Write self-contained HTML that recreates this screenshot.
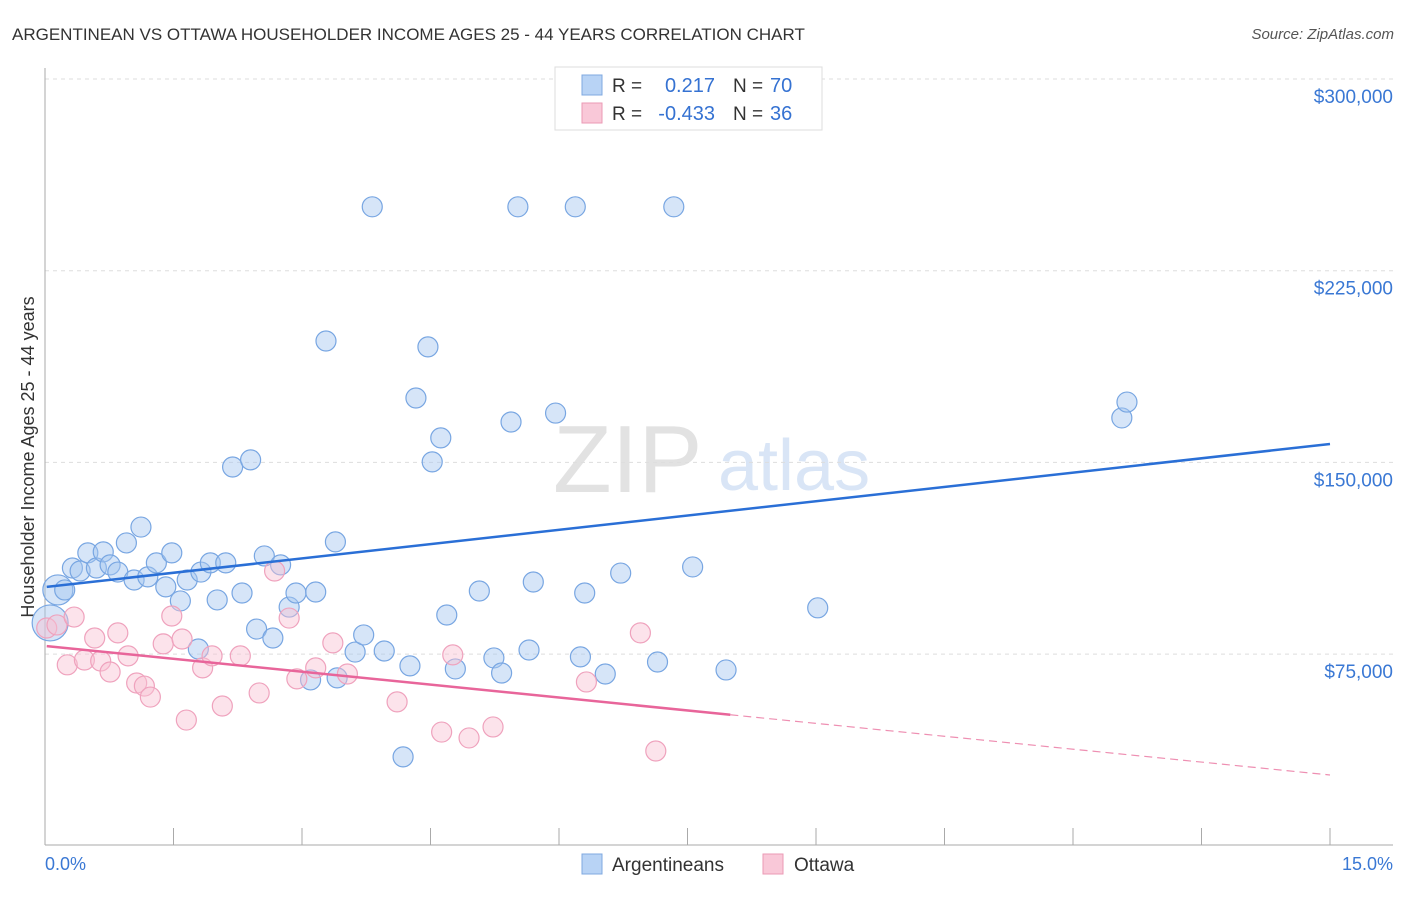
<!DOCTYPE html>
<html><head><meta charset="utf-8"><style>
body{margin:0;background:#fff;font-family:"Liberation Sans",sans-serif}
svg text{font-family:"Liberation Sans",sans-serif}
</style></head><body>
<svg id="c" width="1406" height="892">
<text x="12" y="40" font-size="17" fill="#333">ARGENTINEAN VS OTTAWA HOUSEHOLDER INCOME AGES 25 - 44 YEARS CORRELATION CHART</text>
<text x="1394" y="39" font-size="15" fill="#555" text-anchor="end" font-style="italic">Source: ZipAtlas.com</text>
<text x="553" y="492" font-size="96" fill="#e2e2e2" font-family="Liberation Serif">ZIP</text>
<text x="718" y="490" font-size="72" fill="#d9e5f6">atlas</text>
<text transform="translate(34,457) rotate(-90)" font-size="18" fill="#333" text-anchor="middle">Householder Income Ages 25 - 44 years</text>
<g id="grid"></g><g id="pts"></g><g id="lines"></g>
<g>
<rect x="555" y="67" width="267" height="63" fill="#fff" stroke="#ddd"/>
<rect x="582" y="75" width="20" height="20" fill="#b8d3f5" stroke="#7fa8e0"/>
<rect x="582" y="103" width="20" height="20" fill="#f9c8d8" stroke="#eb9ab5"/>
<text x="612" y="92" font-size="19" fill="#333">R =</text><text x="715" y="92" font-size="20" fill="#3572d2" text-anchor="end">0.217</text>
<text x="733" y="92" font-size="19" fill="#333">N =</text><text x="770" y="92" font-size="20" fill="#3572d2">70</text>
<text x="612" y="120" font-size="19" fill="#333">R =</text><text x="715" y="120" font-size="20" fill="#3572d2" text-anchor="end">-0.433</text>
<text x="733" y="120" font-size="19" fill="#333">N =</text><text x="770" y="120" font-size="20" fill="#3572d2">36</text>
</g>
<g>
<rect x="582" y="854" width="20" height="20" fill="#b8d3f5" stroke="#7fa8e0"/>
<text x="612" y="871" font-size="19" fill="#333">Argentineans</text>
<rect x="763" y="854" width="20" height="20" fill="#f9c8d8" stroke="#eb9ab5"/>
<text x="794" y="871" font-size="19" fill="#333">Ottawa</text>
</g>
<text x="45" y="870" font-size="18" fill="#3a78d4">0.0%</text>
<text x="1393" y="870" font-size="18" fill="#3a78d4" text-anchor="end">15.0%</text>
</svg>
<script>
const yTicks=[300000,225000,150000,75000];
const yTickLabels=["$300,000","$225,000","$150,000","$75,000"];
const blueX=[0.06,0.15,0.23,0.32,0.41,0.50,0.60,0.68,0.76,0.85,0.95,1.04,1.12,1.20,1.30,1.41,1.48,1.58,1.66,1.79,1.82,1.93,2.01,2.11,2.19,2.30,2.40,2.47,2.56,2.66,2.75,2.85,2.93,3.10,3.16,3.28,3.39,3.41,3.62,3.72,3.82,3.96,4.18,4.26,4.33,4.47,4.52,4.62,4.69,4.79,5.07,5.24,5.33,5.44,5.52,5.65,5.70,5.96,6.19,6.25,6.30,6.54,6.72,7.15,7.34,7.56,7.95,9.02,12.57,12.63];
const blueY=[87.2,100.1,100.1,108.7,107.5,114.6,108.7,115.0,109.9,107.1,118.5,104.0,124.7,105.2,110.7,101.3,114.6,95.8,104.0,77.0,107.1,110.7,96.2,110.7,148.2,98.9,151.0,84.8,113.4,81.3,109.9,93.4,98.9,64.9,99.3,197.5,118.9,65.7,75.8,82.5,250,76.2,34.8,70.4,175.2,195.2,150.2,159.6,90.3,69.2,99.7,73.5,67.6,165.8,250,76.6,103.2,169.3,250,73.9,98.9,67.2,106.7,71.9,250,109.1,68.8,93.1,167.4,173.6];
const pinkX=[0.02,0.14,0.26,0.34,0.46,0.58,0.65,0.76,0.85,0.97,1.07,1.16,1.23,1.38,1.48,1.60,1.65,1.84,1.95,2.07,2.28,2.50,2.68,2.85,2.94,3.16,3.36,3.53,4.11,4.63,4.76,4.95,5.23,6.32,6.95,7.13];
const pinkY=[85.2,86.4,70.8,89.5,72.7,81.3,72.3,68.0,83.3,74.3,63.7,62.5,58.2,79.0,89.9,80.9,49.2,69.6,74.3,54.7,74.3,59.8,107.5,89.1,65.3,69.6,79.4,67.2,56.3,44.5,74.7,42.2,46.5,64.1,83.3,37.1];
const blueTrend=[101.3,157.2];
const pinkTrend=[78.2,27.7];
const pinkSolidEnd=8.0;
const X=v=>45+v/15*1285;
const Y=v=>79+(300000-v)/75000*191.7;
const NS="http://www.w3.org/2000/svg";
function mk(t,a,p){const e=document.createElementNS(NS,t);for(const k in a)e.setAttribute(k,a[k]);p.appendChild(e);return e;}
const g=document.getElementById('grid');
yTicks.forEach((v,i)=>{
 const l=mk('line',{x1:45,x2:1393,y1:Y(v),y2:Y(v),stroke:'#ddd','stroke-dasharray':'4,4'},g);
 
 
 const t=mk('text',{x:1393,y:Y(v)+24,'font-size':19,fill:'#3a78d4','text-anchor':'end'},g);
 t.textContent=yTickLabels[i];
 
 
});
mk('line',{x1:45,x2:45,y1:68,y2:845,stroke:'#aaa'},g);
mk('line',{x1:45,x2:1393,y1:845,y2:845,stroke:'#aaa'},g);
for(let i=1;i<=10;i++){const t=mk('line',{x1:X(i*1.5),x2:X(i*1.5),y1:828,y2:845,stroke:'#aaa'},g);
 
 }
const p=document.getElementById('pts');
blueX.forEach((x,i)=>{const r=i==0?18:i==1?15:10;
 const c=mk('circle',{cx:X(x),cy:Y(blueY[i]*1000),r:r,fill:'rgba(165,198,240,0.45)',stroke:'#78a6e2','stroke-width':1.2},p);
 
 });
pinkX.forEach((x,i)=>{
 const c=mk('circle',{cx:X(x),cy:Y(pinkY[i]*1000),r:10,fill:'rgba(248,192,210,0.45)',stroke:'#efa2bd','stroke-width':1.2},p);
 
 });
const L=document.getElementById('lines');
const b=mk('line',{x1:X(0.02),y1:Y(blueTrend[0]*1000),x2:X(15),y2:Y(blueTrend[1]*1000),stroke:'#2a6fd6','stroke-width':2.5},L);


const pv=x=>pinkTrend[0]+(pinkTrend[1]-pinkTrend[0])*x/15;
const ps=mk('line',{x1:X(0.02),y1:Y(pv(0.02)*1000),x2:X(pinkSolidEnd),y2:Y(pv(pinkSolidEnd)*1000),stroke:'#e8659a','stroke-width':2.5},L);


const pd=mk('line',{x1:X(pinkSolidEnd),y1:Y(pv(pinkSolidEnd)*1000),x2:X(15),y2:Y(pv(15)*1000),stroke:'#ee8fb2','stroke-width':1.2,'stroke-dasharray':'8,5'},L);


</script>
</body></html>
